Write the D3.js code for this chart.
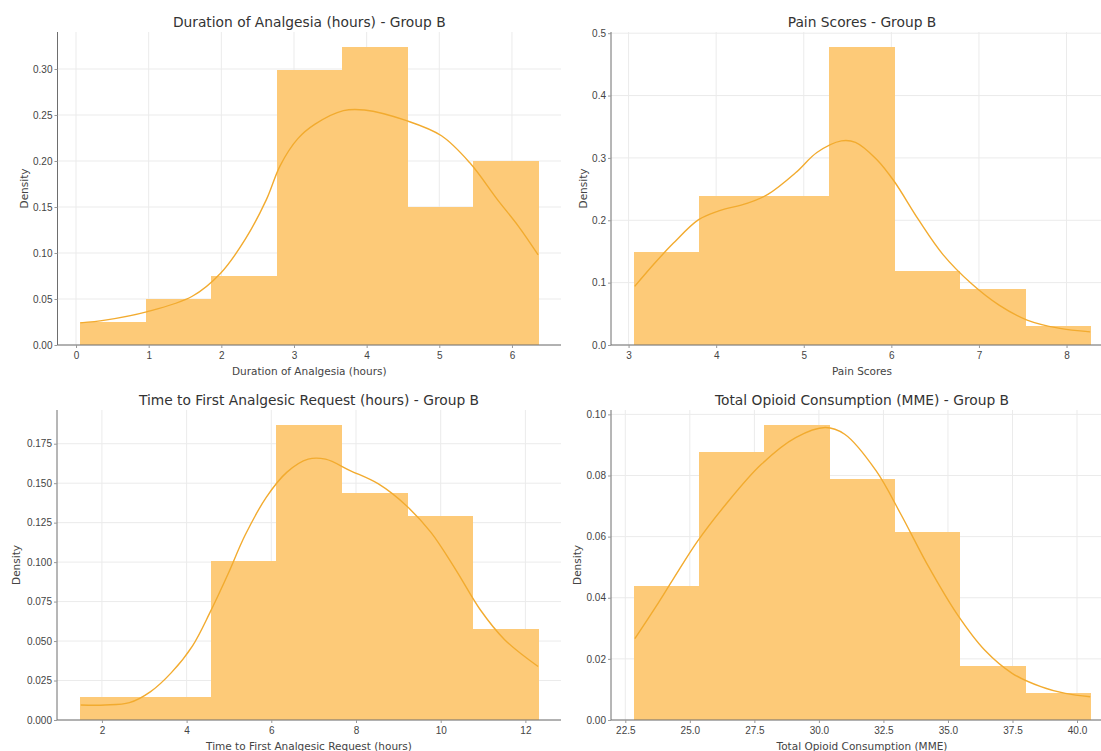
<!DOCTYPE html>
<html>
<head>
<meta charset="utf-8">
<script src="https://cdn.jsdelivr.net/npm/d3@7"></script>
<style>
  body { margin: 0; background: #fff; overflow: hidden; }
  svg { display: block; font-family: "DejaVu Sans", sans-serif; }
</style>
</head>
<body>
<svg id="chart" width="1101" height="751"></svg>
<script>
// ---- Duration of Analgesia (hours) ----
const durationBinEdges = [0.06, 0.96, 1.86, 2.76, 3.66, 4.56, 5.46, 6.36];
const durationDensity  = [0.025, 0.050, 0.075, 0.299, 0.324, 0.150, 0.200];
const durationKdeX = [0.06, 0.40, 0.97, 1.60, 1.99, 2.33, 2.62, 2.81, 3.05, 3.29, 3.68, 3.97, 4.55, 5.03, 5.42, 5.80, 6.09, 6.36];
const durationKdeY = [0.024, 0.027, 0.036, 0.053, 0.078, 0.115, 0.158, 0.195, 0.224, 0.240, 0.2547, 0.2554, 0.2438, 0.2274, 0.198, 0.158, 0.129, 0.098];
const durationTicksX = [0, 1, 2, 3, 4, 5, 6];
const durationTicksY = [0, 0.05, 0.10, 0.15, 0.20, 0.25, 0.30];

// ---- Pain Scores ----
const painBinEdges = [3.06, 3.80, 4.55, 5.29, 6.04, 6.78, 7.53, 8.27];
const painDensity  = [0.149, 0.239, 0.239, 0.478, 0.119, 0.090, 0.030];
const painKdeX = [3.07, 3.31, 3.51, 3.80, 4.03, 4.35, 4.59, 4.91, 5.15, 5.43, 5.59, 5.83, 6.03, 6.31, 6.59, 6.91, 7.23, 7.55, 7.91, 8.27];
const painKdeY = [0.094, 0.133, 0.163, 0.201, 0.215, 0.227, 0.2415, 0.2765, 0.3087, 0.3274, 0.325, 0.298, 0.263, 0.201, 0.145, 0.099, 0.064, 0.040, 0.027, 0.021];
const painTicksX = [3, 4, 5, 6, 7, 8];
const painTicksY = [0, 0.1, 0.2, 0.3, 0.4, 0.5];

// ---- Time to First Analgesic Request (hours) ----
const requestBinEdges = [1.48, 3.03, 4.57, 6.12, 7.66, 9.21, 10.76, 12.30];
const requestDensity  = [0.0144, 0.0144, 0.1005, 0.187, 0.1437, 0.1293, 0.0575];
const requestKdeX = [1.50, 2.07, 2.65, 3.15, 3.64, 4.14, 4.55, 4.97, 5.38, 5.88, 6.37, 6.87, 7.28, 7.86, 8.53, 9.19, 9.77, 10.35, 10.93, 11.51, 12.30];
const requestKdeY = [0.0095, 0.0095, 0.011, 0.018, 0.030, 0.047, 0.068, 0.092, 0.117, 0.141, 0.157, 0.1652, 0.1652, 0.158, 0.1495, 0.1357, 0.1188, 0.0954, 0.070, 0.0509, 0.0339];
const requestTicksX = [2, 4, 6, 8, 10, 12];
const requestTicksY = [0, 0.025, 0.05, 0.075, 0.10, 0.125, 0.15, 0.175];

// ---- Total Opioid Consumption (MME) ----
const opioidBinEdges = [22.83, 25.36, 27.88, 30.41, 32.93, 35.46, 37.99, 40.51];
const opioidDensity  = [0.0439, 0.0878, 0.0966, 0.0790, 0.0615, 0.0176, 0.0088];
const opioidKdeX = [22.87, 23.68, 24.35, 25.30, 26.39, 27.75, 29.10, 30.25, 31.00, 32.22, 33.17, 34.26, 35.34, 36.43, 37.50, 38.60, 39.55, 40.51];
const opioidKdeY = [0.0266, 0.037, 0.046, 0.0585, 0.0705, 0.0835, 0.0924, 0.0957, 0.0935, 0.0815, 0.0674, 0.050, 0.0348, 0.0228, 0.0152, 0.0109, 0.0087, 0.0076];
const opioidTicksX = [22.5, 25, 27.5, 30, 32.5, 35, 37.5, 40];
const opioidTicksY = [0, 0.02, 0.04, 0.06, 0.08, 0.10];

// Panel definitions: data plus where each axes box sits on the page
const panels = [
  { title: "Duration of Analgesia (hours) - Group B", xLabel: "Duration of Analgesia (hours)",
    edges: durationBinEdges, density: durationDensity, kdeX: durationKdeX, kdeY: durationKdeY,
    ticksX: durationTicksX, ticksY: durationTicksY, fmtX: d3.format("d"), fmtY: d3.format(".2f"),
    box: { left: 57.5, right: 561, top: 32, bottom: 345 }, yLabelGap: 30 },
  { title: "Pain Scores - Group B", xLabel: "Pain Scores",
    edges: painBinEdges, density: painDensity, kdeX: painKdeX, kdeY: painKdeY,
    ticksX: painTicksX, ticksY: painTicksY, fmtX: d3.format("d"), fmtY: d3.format(".1f"),
    box: { left: 611, right: 1113, top: 32, bottom: 345 }, yLabelGap: 24 },
  { title: "Time to First Analgesic Request (hours) - Group B", xLabel: "Time to First Analgesic Request (hours)",
    edges: requestBinEdges, density: requestDensity, kdeX: requestKdeX, kdeY: requestKdeY,
    ticksX: requestTicksX, ticksY: requestTicksY, fmtX: d3.format("d"), fmtY: d3.format(".3f"),
    box: { left: 57, right: 561, top: 410, bottom: 720 }, yLabelGap: 37 },
  { title: "Total Opioid Consumption (MME) - Group B", xLabel: "Total Opioid Consumption (MME)",
    edges: opioidBinEdges, density: opioidDensity, kdeX: opioidKdeX, kdeY: opioidKdeY,
    ticksX: opioidTicksX, ticksY: opioidTicksY, fmtX: d3.format(".1f"), fmtY: d3.format(".2f"),
    box: { left: 611, right: 1113, top: 410, bottom: 720 }, yLabelGap: 30 }
];

const BAR_FILL = "#fdca78";
const KDE_STROKE = "#f2ab2f";
const GRID = "#ebebeb";
const SPINE = "#6e6e6e";
const TEXT = "#444";

const svg = d3.select("#chart");

panels.forEach(p => {
  const b = p.box;
  const lo = p.edges[0], hi = p.edges[p.edges.length - 1];
  const pad = (hi - lo) * 0.05;
  const x = d3.scaleLinear().domain([lo - pad, hi + pad]).range([b.left, b.right]);
  const yMax = d3.max([d3.max(p.density), d3.max(p.kdeY)]) * 1.05;
  const y = d3.scaleLinear().domain([0, yMax]).range([b.bottom, b.top]);

  const g = svg.append("g");

  // grid lines
  g.append("g").selectAll("line").data(p.ticksX).join("line")
    .attr("x1", d => x(d)).attr("x2", d => x(d))
    .attr("y1", b.top).attr("y2", b.bottom)
    .attr("stroke", GRID).attr("stroke-width", 1);
  g.append("g").selectAll("line").data(p.ticksY).join("line")
    .attr("x1", b.left).attr("x2", b.right)
    .attr("y1", d => y(d)).attr("y2", d => y(d))
    .attr("stroke", GRID).attr("stroke-width", 1);

  // histogram bars
  const bins = p.density.map((v, i) => ({ x0: p.edges[i], x1: p.edges[i + 1], v }));
  g.append("g").attr("shape-rendering", "crispEdges")
    .selectAll("rect").data(bins).join("rect")
    .attr("x", d => x(d.x0))
    .attr("width", d => x(d.x1) - x(d.x0) + 0.5)
    .attr("y", d => y(d.v))
    .attr("height", d => y(0) - y(d.v))
    .attr("fill", BAR_FILL);

  // kernel density curve
  const pts = p.kdeX.map((v, i) => [v, p.kdeY[i]]);
  g.append("path").datum(pts)
    .attr("d", d3.line().x(d => x(d[0])).y(d => y(d[1])).curve(d3.curveCatmullRom.alpha(0.5)))
    .attr("fill", "none").attr("stroke", KDE_STROKE).attr("stroke-width", 1.4);

  // axes
  const ax = g.append("g").attr("transform", `translate(0,${b.bottom})`)
    .call(d3.axisBottom(x).tickValues(p.ticksX).tickFormat(p.fmtX).tickSizeOuter(0).tickSize(3).tickPadding(4));
  const ay = g.append("g").attr("transform", `translate(${b.left},0)`)
    .call(d3.axisLeft(y).tickValues(p.ticksY).tickFormat(p.fmtY).tickSizeOuter(0).tickSize(3).tickPadding(2));
  [ax, ay].forEach(a => {
    a.select(".domain").attr("stroke", SPINE).attr("stroke-width", 1);
    a.selectAll(".tick line").attr("stroke", "#999");
    a.selectAll(".tick text").attr("fill", TEXT).style("font-size", "10px");
  });
  // axis lines span the full axes box
  ax.select(".domain").attr("d", `M${b.left},0H${b.right}`);
  ay.select(".domain").attr("d", `M0,${b.bottom}V${b.top}`);

  // title and axis labels
  const cx = (b.left + b.right) / 2;
  g.append("text")
    .attr("x", cx).attr("y", b.top - 5)
    .attr("text-anchor", "middle").attr("fill", "#333").style("font-size", "13.8px")
    .text(p.title);
  g.append("text")
    .attr("x", cx).attr("y", b.bottom + 30)
    .attr("text-anchor", "middle").attr("fill", TEXT).style("font-size", "10.5px")
    .text(p.xLabel);
  g.append("text")
    .attr("transform", `translate(${b.left - p.yLabelGap},${(b.top + b.bottom) / 2}) rotate(-90)`)
    .attr("text-anchor", "middle").attr("fill", TEXT).style("font-size", "10.5px")
    .text("Density");
});
</script>
</body>
</html>
